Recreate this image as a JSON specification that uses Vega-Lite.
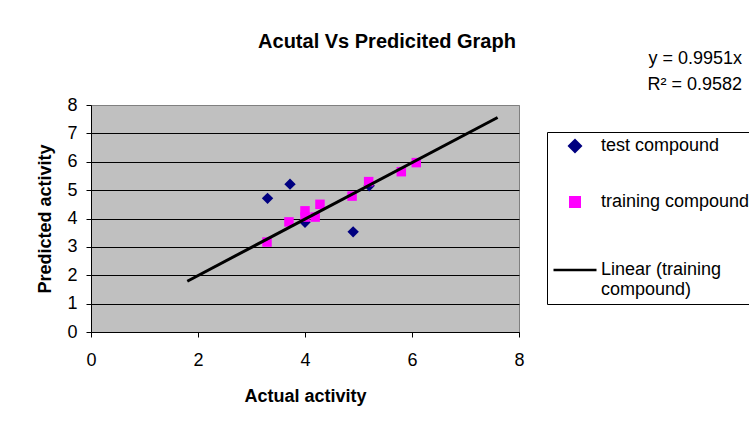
{
  "$schema": "https://vega.github.io/schema/vega-lite/v6.json",
  "width": 428,
  "height": 227,
  "autosize": "none",
  "padding": {"left": 91, "top": 105, "right": 230, "bottom": 96},
  "background": "white",
  "title": {
    "text": "Acutal Vs Predicited Graph",
    "font": "Liberation Sans",
    "fontSize": 20,
    "fontWeight": "bold",
    "color": "black",
    "anchor": "middle",
    "frame": "group",
    "baseline": "alphabetic",
    "dx": 82,
    "dy": 18,
    "offset": 0
  },
  "datasets": {
    "test": [
      {"series": "test compound", "actual": 3.3, "predicted": 4.71},
      {"series": "test compound", "actual": 3.72, "predicted": 5.21},
      {"series": "test compound", "actual": 4.0, "predicted": 3.87},
      {"series": "test compound", "actual": 4.9, "predicted": 3.53},
      {"series": "test compound", "actual": 5.2, "predicted": 5.15}
    ],
    "training": [
      {"series": "training compound", "actual": 3.29, "predicted": 3.17},
      {"series": "training compound", "actual": 3.7, "predicted": 3.88},
      {"series": "training compound", "actual": 4.0, "predicted": 4.27},
      {"series": "training compound", "actual": 4.0, "predicted": 4.05},
      {"series": "training compound", "actual": 4.19, "predicted": 4.05},
      {"series": "training compound", "actual": 4.28, "predicted": 4.5},
      {"series": "training compound", "actual": 4.88, "predicted": 4.79},
      {"series": "training compound", "actual": 5.19, "predicted": 5.3},
      {"series": "training compound", "actual": 5.8, "predicted": 5.65},
      {"series": "training compound", "actual": 6.08, "predicted": 5.97}
    ],
    "trend": [
      {"series": "Linear (training compound)", "actual": 1.8, "predicted": 1.79},
      {"series": "Linear (training compound)", "actual": 7.6, "predicted": 7.56}
    ],
    "equation": [
      {"actual": 12.17, "predicted": 9.63, "label": "y = 0.9951x"},
      {"actual": 12.17, "predicted": 8.71, "label": "R² = 0.9582"}
    ]
  },
  "config": {
    "view": {"fill": "#C0C0C0", "stroke": "#808080", "strokeWidth": 1},
    "axis": {
      "labelFont": "Liberation Sans",
      "labelFontSize": 18,
      "labelColor": "black",
      "titleFont": "Liberation Sans",
      "titleFontSize": 18,
      "titleFontWeight": "bold",
      "titleColor": "black",
      "domainColor": "black",
      "tickColor": "black",
      "tickSize": 5
    },
    "legend": {
      "title": null,
      "orient": "none",
      "legendX": 456,
      "legendY": 27,
      "strokeColor": "black",
      "fillColor": "white",
      "padding": 5,
      "labelFont": "Liberation Sans",
      "labelFontSize": 18,
      "labelColor": "black",
      "labelLimit": 0,
      "labelOffset": 3,
      "symbolStrokeWidth": 2.5,
      "symbolOpacity": 1,
      "rowPadding": 35
    }
  },
  "encoding": {
    "x": {
      "field": "actual",
      "type": "quantitative",
      "scale": {"domain": [0, 8], "nice": false, "zero": false},
      "axis": {
        "title": "Actual activity",
        "values": [0, 2, 4, 6, 8],
        "grid": false,
        "labelPadding": 14,
        "titlePadding": 18,
        "labelFlush": false
      }
    },
    "y": {
      "field": "predicted",
      "type": "quantitative",
      "scale": {"domain": [0, 8], "nice": false, "zero": false},
      "axis": {
        "title": "Predicted activity",
        "values": [0, 1, 2, 3, 4, 5, 6, 7, 8],
        "grid": true,
        "gridColor": {"condition": {"test": "datum.value == 8", "value": "#808080"}, "value": "black"},
        "gridOpacity": 1,
        "gridWidth": 1,
        "labelPadding": 9,
        "titlePadding": 12,
        "labelFlush": false
      }
    }
  },
  "layer": [
    {
      "data": {"name": "test"},
      "mark": {"type": "point", "filled": true, "opacity": 1},
      "encoding": {
        "color": {
          "field": "series",
          "type": "nominal",
          "scale": {
            "domain": ["test compound", "training compound", "Linear (training compound)"],
            "range": ["#000080", "#FF00FF", "#000000"]
          },
          "legend": {
            "title": null,
            "labelExpr": "datum.label == 'Linear (training compound)' ? ['Linear (training', 'compound)'] : datum.label"
          }
        },
        "shape": {
          "field": "series",
          "type": "nominal",
          "scale": {
            "domain": ["test compound", "training compound", "Linear (training compound)"],
            "range": ["diamond", "square", "stroke"]
          },
          "legend": {
            "title": null,
            "labelExpr": "datum.label == 'Linear (training compound)' ? ['Linear (training', 'compound)'] : datum.label"
          }
        },
        "size": {
          "field": "series",
          "type": "nominal",
          "scale": {
            "type": "ordinal",
            "domain": ["test compound", "training compound", "Linear (training compound)"],
            "range": [130, 90, 1849]
          },
          "legend": {
            "title": null,
            "labelExpr": "datum.label == 'Linear (training compound)' ? ['Linear (training', 'compound)'] : datum.label"
          }
        }
      }
    },
    {
      "data": {"name": "training"},
      "mark": {"type": "point", "filled": true, "opacity": 1},
      "encoding": {
        "color": {
          "field": "series",
          "type": "nominal",
          "scale": {
            "domain": ["test compound", "training compound", "Linear (training compound)"],
            "range": ["#000080", "#FF00FF", "#000000"]
          }
        },
        "shape": {
          "field": "series",
          "type": "nominal",
          "scale": {
            "domain": ["test compound", "training compound", "Linear (training compound)"],
            "range": ["diamond", "square", "stroke"]
          }
        },
        "size": {
          "field": "series",
          "type": "nominal",
          "scale": {
            "type": "ordinal",
            "domain": ["test compound", "training compound", "Linear (training compound)"],
            "range": [130, 90, 1849]
          }
        }
      }
    },
    {
      "data": {"name": "trend"},
      "mark": {"type": "line", "strokeWidth": 3},
      "encoding": {
        "color": {
          "field": "series",
          "type": "nominal",
          "scale": {
            "domain": ["test compound", "training compound", "Linear (training compound)"],
            "range": ["#000080", "#FF00FF", "#000000"]
          }
        }
      }
    },
    {
      "data": {"name": "equation"},
      "mark": {"type": "text", "align": "right", "baseline": "middle", "font": "Liberation Sans", "fontSize": 18, "color": "black", "clip": false},
      "encoding": {"text": {"field": "label"}}
    }
  ]
}
